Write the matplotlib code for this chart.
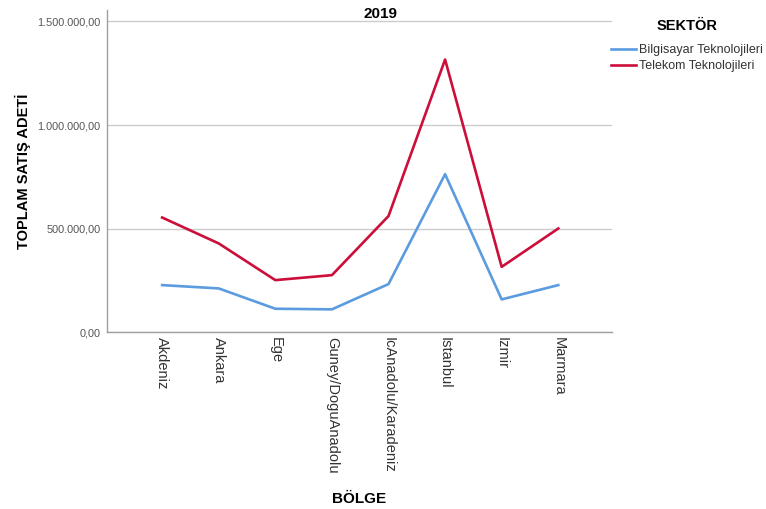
import matplotlib.pyplot as plt
from matplotlib.ticker import FuncFormatter

plt.rcParams['font.family'] = ['Liberation Sans', 'DejaVu Sans']

# data
regions = ["Akdeniz", "Ankara", "Ege", "Guney/DoguAnadolu",
           "IcAnadolu/Karadeniz", "Istanbul", "Izmir", "Marmara"]
bilgisayar = [228000, 212000, 114000, 111000, 233000, 763000, 159000, 228000]
telekom = [554000, 429000, 252000, 276000, 561000, 1316000, 316000, 501000]
y_ticks = [0, 500000, 1000000, 1500000]


def tr_fmt(v, pos):
    s = "{:,.2f}".format(v)
    return s.replace(",", "X").replace(".", ",").replace("X", ".")


fig = plt.figure(figsize=(7.66, 5.09), dpi=100)
ax = fig.add_axes([0.140, 0.347, 0.659, 0.633])

x = list(range(len(regions)))
ax.plot(x, bilgisayar, color='#5b9be0', linewidth=1.9, label='Bilgisayar Teknolojileri')
ax.plot(x, telekom, color='#cc0e3a', linewidth=1.9, label='Telekom Teknolojileri')

ax.set_xlim(-0.97, 7.95)
ax.set_ylim(0, 1554000)
ax.set_yticks(y_ticks)
ax.yaxis.set_major_formatter(FuncFormatter(tr_fmt))
ax.set_xticks(x)
ax.set_xticklabels(regions, rotation=270, fontsize=10.5, color='#333333')
ax.tick_params(axis='y', labelsize=7.8, labelcolor='#555555', length=0, pad=5)
ax.tick_params(axis='x', length=0, pad=3)

ax.grid(True, axis='y', color='#cccccc', linewidth=1)
ax.set_axisbelow(True)
for side in ['top', 'right']:
    ax.spines[side].set_visible(False)
for side in ['left', 'bottom']:
    ax.spines[side].set_color('#a0a0a0')
    ax.spines[side].set_linewidth(1)

ax.set_ylabel('TOPLAM SATIŞ ADETİ', fontsize=10.5, fontweight='bold')
ax.yaxis.set_label_coords(-0.152, 0.5)
fig.text(0.469, 0.019, 'BÖLGE', fontsize=11, fontweight='bold', ha='center', va='center')
fig.text(0.497, 0.973, '2019', fontsize=11, fontweight='bold', ha='center', va='center')

leg = ax.legend(loc='upper left', bbox_to_anchor=(0.798, 0.963), bbox_transform=fig.transFigure,
                frameon=False, fontsize=9, handlelength=2.0, handletextpad=0.2,
                borderpad=0, borderaxespad=0, labelspacing=0.35,
                title='SEKTÖR', title_fontproperties={'weight': 'bold', 'size': 10.5})
for t in leg.get_texts():
    t.set_color('#333333')
leg._legend_box.sep = 8

fig.savefig('out.png', dpi=100)
